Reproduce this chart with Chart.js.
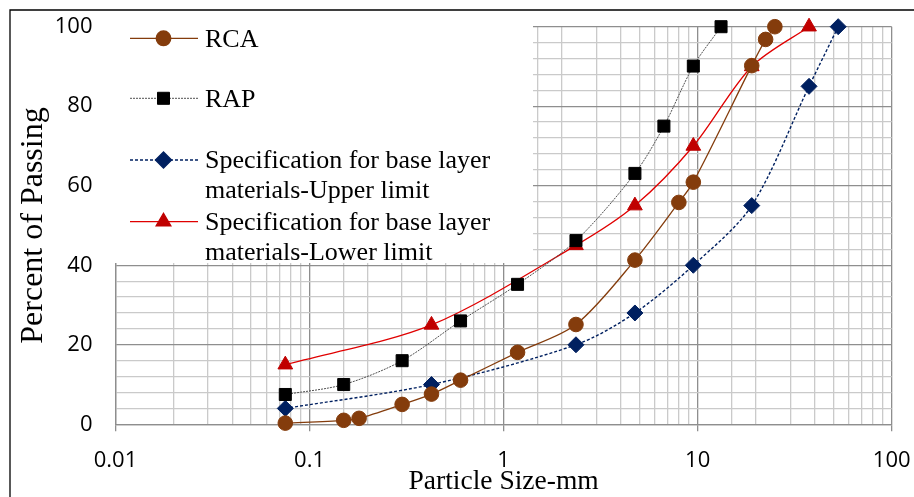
<!DOCTYPE html>
<html>
<head>
<meta charset="utf-8">
<script src="https://cdn.jsdelivr.net/npm/chart.js@4/dist/chart.umd.min.js"></script>
<style>
  body { margin: 0; background: #fff; }
  canvas { display: block; }
</style>
</head>
<body>
<canvas id="myChart" width="914" height="497"></canvas>
<script>
// datos (tamaño de tamiz en mm, porcentaje que pasa)
const sieveRCA = [0.075, 0.15, 0.18, 0.3, 0.425, 0.6, 1.18, 2.36, 4.75, 8, 9.5, 19, 22.4, 25]
const passRCA = [0.3, 1, 1.5, 5, 7.6, 11.1, 18.1, 25.1, 41.3, 55.8, 60.9, 90.2, 96.8, 100]

const sieveRAP = [0.075, 0.15, 0.3, 0.6, 1.18, 2.36, 4.75, 6.7, 9.5, 13.2]
const passRAP = [7.5, 10, 16, 26, 35.2, 46.2, 63.1, 75, 90.1, 100]

const sieveUpper = [0.075, 0.425, 2.36, 4.75, 9.5, 19, 37.5, 53]
const passUpper = [4, 10, 20, 28, 40, 55, 85, 100]

const sieveLower = [0.075, 0.425, 2.36, 4.75, 9.5, 19, 37.5]
const passLower = [15, 25, 45, 55, 70, 90, 100]

const xTickLabels = ['0.01', '0.1', '1', '10', '100']
const yTickLabels = [0, 20, 40, 60, 80, 100]

const seriesNames = ['RCA', 'RAP', 'Specification for base layer\nmaterials-Upper limit', 'Specification for base layer\nmaterials-Lower limit']

//se arma cada par x,y
function pares(xs, ys) {
    return xs.map(function (x, i) {
        return { x: x, y: ys[i] };
    });
}

function esDecada(v) {
    const l = Math.log10(v)
    return Math.abs(l - Math.round(l)) < 1e-6
}

//quita el espacio extra que chart.js deja para las etiquetas de los extremos
function sinRelleno(s) {
    s.paddingTop = 0
    s.paddingBottom = 0
    s.paddingLeft = 0
    s.paddingRight = 0
}

const gridMayor = '#8e8e8e'
const gridMenor = '#cacaca'

//leyenda dibujada encima de la cuadricula con fondo blanco
const leyendaPlugin = {
    id: 'leyendaPropia',
    beforeDatasetsDraw(chart) {
        const ctx = chart.ctx
        ctx.save()
        ctx.fillStyle = '#fff'
        ctx.fillRect(112, 18, 421, 245)

        const filas = [38.3, 98.3, 160, 221.7]
        chart.data.datasets.forEach(function (ds, i) {
            const y = filas[i]
            ctx.strokeStyle = ds.borderColor
            ctx.lineWidth = ds.borderWidth
            ctx.setLineDash(ds.borderDash || [])
            ctx.beginPath()
            ctx.moveTo(130, y)
            ctx.lineTo(198, y)
            ctx.stroke()
            ctx.setLineDash([])
            ctx.fillStyle = ds.pointBackgroundColor
            ctx.strokeStyle = ds.pointBorderColor
            Chart.helpers.drawPoint(ctx, {
                pointStyle: ds.pointStyle,
                radius: ds.pointRadius,
                rotation: 0,
                borderWidth: 1
            }, 163.5, y)

            ctx.fillStyle = '#000'
            ctx.font = '26px "Liberation Serif", "Times New Roman", serif'
            ctx.textBaseline = 'alphabetic'
            ctx.textAlign = 'left'
            const lineas = seriesNames[i].split('\n')
            lineas.forEach(function (t, k) {
                ctx.fillText(t, 205, y + 8.3 + k * 30)
            })
        })

        // marco exterior
        ctx.strokeStyle = '#000'
        ctx.lineWidth = 1.3
        ctx.beginPath()
        ctx.moveTo(10, 497)
        ctx.lineTo(10, 10)
        ctx.lineTo(914, 10)
        ctx.stroke()
        ctx.restore()
    }
}

const canvas = document.querySelector('#myChart')
const ctx = canvas.getContext('2d')

let chart = new Chart(ctx, {
    type: 'scatter',
    data: {
        datasets: [{
            label: 'RCA',
            data: pares(sieveRCA, passRCA),
            showLine: true,
            borderColor: '#843C0C',
            borderWidth: 1.3,
            tension: 0.3,
            pointStyle: 'circle',
            pointRadius: 7.3,
            pointBackgroundColor: '#843C0C',
            pointBorderColor: '#843C0C',
            pointBorderWidth: 1,
            clip: false
        },
        {
            label: 'RAP',
            data: pares(sieveRAP, passRAP),
            showLine: true,
            borderColor: '#505050',
            borderWidth: 1,
            borderDash: [2, 1],
            tension: 0.3,
            pointStyle: 'rect',
            pointRadius: 8.5,
            pointBackgroundColor: '#000',
            pointBorderColor: '#000',
            pointBorderWidth: 1,
            clip: false
        },
        {
            label: 'Upper',
            data: pares(sieveUpper, passUpper),
            showLine: true,
            borderColor: '#002060',
            borderWidth: 1.4,
            borderDash: [3, 2],
            tension: 0.3,
            pointStyle: 'rectRot',
            pointRadius: 8,
            pointBackgroundColor: '#002060',
            pointBorderColor: '#002060',
            pointBorderWidth: 1,
            clip: false
        },
        {
            label: 'Lower',
            data: pares(sieveLower, passLower),
            showLine: true,
            borderColor: '#e00000',
            borderWidth: 1.3,
            tension: 0.3,
            pointStyle: 'triangle',
            pointRadius: 8.5,
            pointBackgroundColor: '#c00000',
            pointBorderColor: '#c00000',
            pointBorderWidth: 1,
            clip: false
        }]
    },
    options: {
        responsive: false,
        animation: false,
        events: [],
        layout: { padding: { left: 0, right: 22.3, top: 26.7, bottom: 0 } },
        plugins: {
            legend: { display: false },
            tooltip: { enabled: false }
        },
        scales: {
            x: {
                type: 'logarithmic',
                min: 0.01,
                max: 100,
                afterFit: function (s) { s.height = 72.7; sinRelleno(s) },
                border: { color: gridMayor, width: 1.3 },
                grid: {
                    lineWidth: 1.3,
                    tickLength: 7,
                    color: (c) => (c.tick && esDecada(c.tick.value)) ? gridMayor : gridMenor,
                    tickColor: (c) => (c.tick && esDecada(c.tick.value)) ? gridMayor : 'rgba(0,0,0,0)'
                },
                ticks: {
                    autoSkip: false,
                    maxRotation: 0,
                    padding: 16,
                    color: '#000',
                    font: { family: '"Open Sans", sans-serif', size: 22 },
                    callback: function (v) {
                        if (!esDecada(v)) return ''
                        return xTickLabels[Math.round(Math.log10(v)) + 2]
                    }
                },
                title: {
                    display: true,
                    text: 'Particle Size-mm',
                    color: '#000',
                    font: { family: '"Liberation Serif", "Times New Roman", serif', size: 27.5, lineHeight: 1.1 },
                    padding: 0
                }
            },
            y: {
                min: 0,
                max: 100,
                afterFit: function (s) { s.width = 115.5; sinRelleno(s) },
                border: { color: gridMayor, width: 1.3 },
                grid: {
                    lineWidth: 1.3,
                    drawTicks: false,
                    color: (c) => (c.tick && c.tick.value % 20 === 0) ? gridMayor : gridMenor
                },
                ticks: {
                    stepSize: 4,
                    autoSkip: false,
                    padding: 23,
                    color: '#000',
                    font: { family: '"Open Sans", sans-serif', size: 22 },
                    callback: function (v) {
                        return yTickLabels.includes(v) ? String(v) : ''
                    }
                },
                title: {
                    display: true,
                    text: 'Percent of Passing',
                    color: '#000',
                    font: { family: '"Liberation Serif", "Times New Roman", serif', size: 32, lineHeight: 1.2 },
                    padding: { top: 14, bottom: 0 }
                }
            }
        }
    },
    plugins: [leyendaPlugin]
});
</script>
</body>
</html>
